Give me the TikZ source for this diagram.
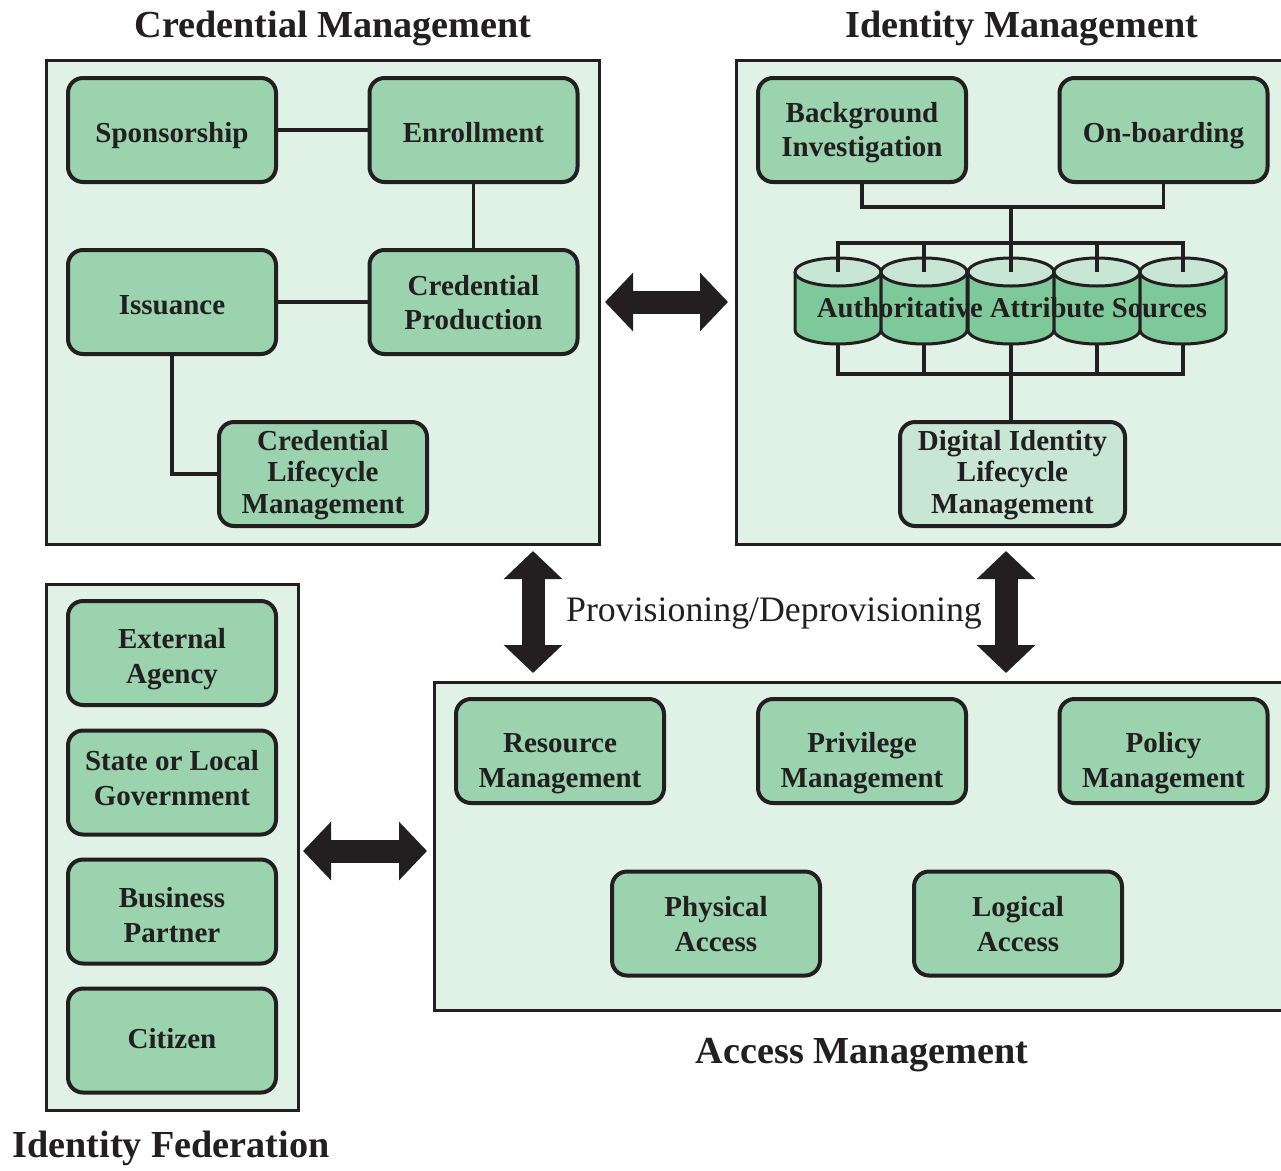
\documentclass[tikz,border=0pt]{standalone}
\usepackage{fontspec}
\setmainfont{Liberation Serif}
\usetikzlibrary{arrows.meta,calc}
\definecolor{ink}{HTML}{231F20}
\definecolor{panelfill}{HTML}{E0F1E6}
\definecolor{boxfill}{HTML}{9AD3AE}
\definecolor{cylbody}{HTML}{7EC99A}
\definecolor{lightfill}{HTML}{C8E6D4}
\tikzset{
  panel/.style={draw=ink, line width=3pt, fill=panelfill, inner sep=0pt},
  greenbox/.style={draw=ink, line width=4pt, fill=boxfill, rounded corners=15pt,
    minimum width=208pt, minimum height=104pt, inner sep=2pt, align=center,
    text=ink, font=\fontsize{29}{34.5}\selectfont\bfseries},
  threeline/.style={font=\fontsize{29}{31.5}\selectfont\bfseries},
  bdown/.style={text height=#1, text depth=0pt},
  conn/.style={draw=ink, line width=3.5pt},
  title/.style={anchor=base, text=ink, font=\fontsize{38.2}{40}\selectfont\bfseries, inner sep=0pt},
  bigarrow/.style={ink, line width=23pt, {Triangle[width=57pt,length=28pt]}-{Triangle[width=57pt,length=28pt]}},
}
\begin{document}
\begin{tikzpicture}[x=1pt,y=-1pt]
\useasboundingbox (0,0) rectangle (1281,1170);
% titles
\node[title] (tcm) at (333,37) {Credential Management};
\node[title] (tim) at (1022,37) {Identity Management};
\node[title] (tif) at (171,1157) {Identity Federation};
\node[title] (tam) at (862,1063) {Access Management};
% panels
\node[panel, minimum width=553pt, minimum height=484pt] (cm) at (322.5,302) {};
\node[panel, minimum width=560pt, minimum height=484pt] (im) at (1016,302) {};
\node[panel, minimum width=252pt, minimum height=526pt] (if) at (172,847) {};
\node[panel, minimum width=860pt, minimum height=328pt] (am) at (864,846) {};
% credential management boxes
\node[greenbox, bdown=24pt] (spons) at (172,130) {Sponsorship};
\node[greenbox, bdown=24pt] (enroll) at (473.5,130) {Enrollment};
\node[greenbox, bdown=24pt] (iss) at (172,302) {Issuance};
\node[greenbox, bdown=55pt] (cprod) at (473.5,302) {Credential\\Production};
\node[greenbox, threeline, bdown=78pt] (clm) at (323,474) {Credential\\Lifecycle\\Management};
\draw[conn] (spons) -- (enroll);
\draw[conn] (enroll) -- (cprod);
\draw[conn] (iss) -- (cprod);
\draw[conn] (iss.south) |- (clm.west);
% identity management boxes
\node[greenbox, bdown=53pt] (bi) at (862,130) {Background\\Investigation};
\node[greenbox, bdown=24pt] (ob) at (1163.5,130) {On-boarding};
\node[greenbox, threeline, bdown=78pt, fill=lightfill, minimum width=225pt] (dilm) at (1012.5,474) {Digital Identity\\Lifecycle\\Management};
% cylinders
\foreach \i/\cx in {1/838,2/924,3/1011,4/1097,5/1183}{
  \fill[cylbody] (\cx-43,272) -- (\cx-43,330) arc(180:360:43pt and 14pt) -- (\cx+43,272) arc(0:180:43pt and 14pt) -- cycle;
  \draw[ink, line width=3pt] (\cx-43,272) -- (\cx-43,330) arc(180:360:43pt and 14pt) -- (\cx+43,272);
  \draw[ink, line width=3pt, fill=lightfill] (\cx,272) ellipse (43pt and 14pt);
  \coordinate (ct\i) at (\cx,272);
  \coordinate (cb\i) at (\cx,344);
}
\node[text=ink, font=\fontsize{28.7}{34}\selectfont\bfseries, inner sep=0pt] (aas) at (1012,308) {Authoritative Attribute Sources};
\coordinate (j1) at (1011,207);
\coordinate (j2) at (1011,243);
\coordinate (j3) at (1011,374);
\draw[conn] (bi.south) |- (j1) -| (ob.south);
\draw[conn] (j1) -- (j2);
\draw[conn] (ct1) |- (j2) -| (ct5);
\foreach \i in {2,3,4}{ \draw[conn] (ct\i) -- (ct\i |- j2); }
\draw[conn] (cb1) |- (j3) -| (cb5);
\foreach \i in {2,3,4}{ \draw[conn] (cb\i) -- (cb\i |- j3); }
\draw[conn] (j3) -- (j3 |- dilm.north);
% identity federation boxes
\node[greenbox, bdown=60pt] (ea) at (172,653) {External\\Agency};
\node[greenbox, bdown=45pt] (slg) at (172,782.5) {State or Local\\Government};
\node[greenbox, bdown=61pt] (bp) at (172,911.5) {Business\\Partner};
\node[greenbox, bdown=15pt] (cit) at (172,1040.5) {Citizen};
% access management boxes
\node[greenbox, bdown=72pt] (rm) at (560,751) {Resource\\Management};
\node[greenbox, bdown=72pt] (pm) at (862,751) {Privilege\\Management};
\node[greenbox, bdown=72pt] (polm) at (1163.5,751) {Policy\\Management};
\node[greenbox, bdown=55pt] (pa) at (716,923.5) {Physical\\Access};
\node[greenbox, bdown=55pt] (la) at (1018,923.5) {Logical\\Access};
% arrows
\coordinate (h1a) at (605,302);
\coordinate (h1b) at (728,302);
\draw[bigarrow] (h1a) -- (h1b);
\coordinate (v1a) at (533,551);
\coordinate (v1b) at (533,673);
\draw[bigarrow] (v1a) -- (v1b);
\coordinate (v2a) at (1006,551);
\coordinate (v2b) at (1006,673);
\draw[bigarrow] (v2a) -- (v2b);
\coordinate (h2a) at (303,851);
\coordinate (h2b) at (427,851);
\draw[bigarrow] (h2a) -- (h2b);
\node[text=ink, font=\fontsize{35.8}{40}\selectfont, inner sep=0pt] (prov) at (774,614) {Provisioning/Deprovisioning};
\end{tikzpicture}
\end{document}
